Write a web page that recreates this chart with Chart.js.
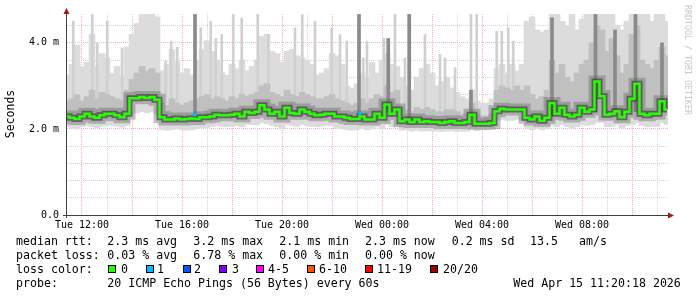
<!DOCTYPE html>
<html>
<head>
<meta charset="utf-8">
<script src="https://cdn.jsdelivr.net/npm/chart.js@4/dist/chart.umd.min.js"></script>
<style>
  html, body { margin: 0; padding: 0; background: #fff; }
  #graph { display: block; }
</style>
</head>
<body>
<canvas id="graph" width="697" height="297"></canvas>
<script>
// one reading every 12 minutes, first one at Tue 11:24 (hours counted from Tue 00:00)
const startHour = 11.4;
const stepHour = 0.2;

// median rtt in ms
const median = [
  2.29,2.26,2.23,2.29,2.35,2.29,2.26,2.32,2.35,2.35,
  2.32,2.27,2.35,2.71,2.71,2.74,2.72,2.74,2.68,2.27,
  2.22,2.22,2.24,2.22,2.23,2.24,2.23,2.27,2.27,2.29,
  2.33,2.32,2.32,2.33,2.35,2.29,2.40,2.37,2.40,2.55,
  2.45,2.35,2.40,2.29,2.49,2.37,2.35,2.45,2.40,2.35,
  2.32,2.33,2.35,2.35,2.29,2.29,2.26,2.23,2.23,2.29,
  2.22,2.22,2.35,2.26,2.57,2.35,2.45,2.18,2.22,2.16,
  2.22,2.16,2.18,2.16,2.16,2.14,2.16,2.18,2.14,2.14,
  2.16,2.33,2.12,2.12,2.12,2.14,2.41,2.47,2.45,2.45,
  2.45,2.45,2.26,2.22,2.29,2.19,2.26,2.60,2.35,2.49,
  2.33,2.29,2.33,2.49,2.40,2.45,3.10,2.76,2.33,2.35,
  2.41,2.27,2.40,2.70,3.05,2.35,2.32,2.35,2.35,2.64,
  2.45
];

// bottom of the smoke
const smokeLow = [
  2.05,2.02,2.00,2.05,2.08,2.05,2.03,2.06,2.08,2.08,
  2.06,2.04,2.08,2.35,2.38,2.40,2.38,2.40,2.35,1.98,
  1.97,1.98,2.00,1.98,1.97,1.98,2.00,2.02,2.03,2.05,
  2.07,2.06,2.05,2.06,2.08,2.05,2.10,2.10,2.10,2.15,
  2.12,2.08,2.05,2.00,2.10,2.08,2.06,2.10,2.08,2.06,
  2.05,2.06,2.08,2.08,2.02,2.00,1.98,1.97,1.98,2.02,
  1.98,2.00,2.05,2.00,2.10,2.05,2.08,1.97,1.98,1.95,
  1.97,1.95,1.96,1.95,1.95,1.94,1.95,1.96,1.94,1.95,
  1.95,2.00,1.96,1.98,1.98,2.00,2.20,2.22,2.20,2.20,
  2.22,2.20,2.02,1.98,2.02,1.98,2.00,2.08,2.05,2.10,
  2.05,2.02,2.05,2.10,2.08,2.10,2.15,2.15,2.05,2.06,
  2.10,2.02,2.08,2.10,2.15,2.08,2.05,2.06,2.06,2.15,
  2.10
];

// top of the denser grey smoke
const smokeMid = [
  2.65,2.70,2.80,2.65,2.75,2.90,2.70,2.85,2.80,2.75,
  2.70,2.65,2.90,3.15,3.30,3.45,3.35,3.40,3.30,2.60,
  2.55,2.70,2.60,2.55,2.60,2.65,2.70,2.75,2.80,2.70,
  2.75,2.70,2.65,2.75,2.70,2.80,2.75,2.80,2.85,3.00,
  3.05,2.85,2.80,2.75,2.90,2.80,2.75,2.85,2.80,2.75,
  2.70,2.70,2.75,2.80,2.70,2.65,2.60,2.55,2.60,2.70,
  2.60,2.70,2.80,2.75,3.00,2.85,2.90,2.50,2.45,2.40,
  2.50,2.45,2.50,2.45,2.40,2.40,2.45,2.45,2.40,2.35,
  2.35,2.60,2.35,2.30,2.30,2.35,2.90,3.00,2.95,2.90,
  3.00,2.90,3.00,2.80,2.70,2.75,2.90,3.60,3.30,3.50,
  3.20,3.10,3.30,3.50,3.60,4.00,4.40,4.30,3.80,4.10,
  3.70,3.30,3.50,4.20,4.40,3.60,3.50,3.40,3.60,3.90,
  3.70
];

// top of the light smoke
const smokeTop = [
  3.25,3.50,3.95,3.45,3.55,4.20,3.45,3.75,3.65,3.30,
  3.45,3.20,3.90,4.20,4.45,4.66,4.66,4.66,4.60,3.35,
  3.50,3.85,3.55,3.30,3.40,3.25,3.60,3.85,4.05,3.80,
  3.60,3.30,3.25,3.50,3.40,3.60,3.35,3.45,3.60,4.15,
  4.20,3.80,3.75,3.55,3.80,3.85,3.70,3.65,3.60,3.50,
  3.25,3.30,3.40,3.75,3.70,3.50,3.00,2.95,3.05,3.30,
  3.20,3.55,3.30,3.60,3.75,3.50,3.45,3.20,3.00,2.90,
  3.20,3.40,3.50,3.30,3.00,3.10,3.20,2.95,2.85,2.75,
  2.70,2.90,2.65,2.60,2.60,2.70,3.40,3.50,3.30,3.50,
  3.35,3.50,4.50,4.60,4.30,4.25,4.30,4.66,4.66,4.50,
  4.40,4.66,4.30,4.55,4.66,4.66,4.66,4.66,4.66,4.66,
  4.40,4.30,4.50,4.66,4.66,4.66,4.66,4.50,4.66,4.66,
  4.50
];

// single slow pings
const spikeHours = [11.65,12.41,12.61,13.01,13.6,15.35,15.57,15.81,16.75,17.15,17.35,17.59,18.05,18.39,19.03,19.45,
  20.52,20.81,21.32,21.99,22.32,22.59,23.25,23.4,24.08,24.52,24.92,25.72,26.32,26.52,26.92,27.56,27.79,28.59,28.79,29.05,29.25];
const spikeTops = [4.5,4.66,4.0,4.5,3.88,3.57,4.04,3.9,4.35,4.5,4.1,4.19,4.66,4.58,4.66,4.19,
  4.35,4.66,4.5,4.35,4.19,4.04,3.65,4.04,4.1,4.66,3.65,4.19,3.73,3.65,3.42,4.66,4.66,4.27,4.27,4.35,4.04];
const spikeBase = 2.4;

// dark columns
const darkHours = [16.52,23.08,24.25,25.09,27.56,30.8,32.54,33.32,34.14,35.2];
const darkLows = [2.26,2.33,2.4,2.2,2.3,2.3,2.4,2.4,2.4,2.4];
const darkTops = [4.66,4.66,4.1,4.66,2.9,4.58,4.66,4.3,4.66,4.0];

// samples with 1 lost ping
const lossHours = [16.52,23.12];
const lossValues = [2.33,2.36];

const tickHours = [12,16,20,24,28,32];
const tickNames = ["Tue 12:00","Tue 16:00","Tue 20:00","Wed 00:00","Wed 04:00","Wed 08:00"];
const yTickValues = [0,1,2,3,4];
const yTickNames = ["0.0","1.0 m","2.0 m","3.0 m","4.0 m"];

const rttStats = ["2.3 ms avg","3.2 ms max","2.1 ms min","2.3 ms now","0.2 ms sd","13.5","am/s"];
const lossStats = ["0.03 % avg","6.78 % max","0.00 % min","0.00 % now"];
const lossLabels = ["0","1","2","3","4-5","6-10","11-19","20/20"];
const lossColors = ["#26ff00","#00b8ff","#0059ff","#7e00ff","#ff00ff","#ff5500","#ff0000","#a00000"];
const probeText = "20 ICMP Echo Pings (56 Bytes) every 60s";
const stampText = "Wed Apr 15 11:20:18 2026";

const hours = median.map((_, i) => startHour + i * stepHour);
const mono = '"DejaVu Sans Mono", monospace';
const major = "#f2b4b4";
const minor = "#d4d4d4";

const hourGrid = [];
for (let h = 12; h <= 35; h++) hourGrid.push(h);
const msGrid = [];
for (let k = 0; k <= 23; k++) msGrid.push(Math.round(k * 2) / 10);

const decor = {
  id: "decor",
  afterDraw(chart) {
    const ctx = chart.ctx;
    ctx.save();
    // axes
    ctx.strokeStyle = "#404040";
    ctx.lineWidth = 1;
    ctx.beginPath();
    ctx.moveTo(66.5, 12);
    ctx.lineTo(66.5, 218);
    ctx.moveTo(63, 215.5);
    ctx.lineTo(669, 215.5);
    ctx.stroke();
    ctx.fillStyle = "#a01818";
    ctx.beginPath();
    ctx.moveTo(66.5, 8);
    ctx.lineTo(63.5, 14);
    ctx.lineTo(69.5, 14);
    ctx.closePath();
    ctx.fill();
    ctx.beginPath();
    ctx.moveTo(674, 215.5);
    ctx.lineTo(668, 212.5);
    ctx.lineTo(668, 218.5);
    ctx.closePath();
    ctx.fill();

    // y title
    ctx.fillStyle = "#000";
    ctx.font = "11.5px " + mono;
    ctx.textAlign = "center";
    ctx.textBaseline = "middle";
    ctx.save();
    ctx.translate(11, 114);
    ctx.rotate(-Math.PI / 2);
    ctx.fillText("Seconds", 0, 0);
    ctx.restore();

    // watermark
    ctx.save();
    ctx.fillStyle = "#c8c8c8";
    ctx.font = "8.3px " + mono;
    ctx.textAlign = "left";
    ctx.translate(687.5, 5);
    ctx.rotate(Math.PI / 2);
    ctx.fillText("RRDTOOL / TOBI OETIKER", 0, 0);
    ctx.restore();

    // legend
    ctx.font = "11.6px " + mono;
    ctx.textAlign = "left";
    ctx.textBaseline = "alphabetic";
    ctx.fillStyle = "#000";
    const cols = [107.3, 193.3, 279.3, 365, 451.7, 530, 579];
    ctx.fillText("median rtt:", 16, 244.5);
    rttStats.forEach((t, i) => ctx.fillText(t, cols[i], 244.5));
    ctx.fillText("packet loss:", 16, 258.5);
    lossStats.forEach((t, i) => ctx.fillText(t, cols[i], 258.5));
    ctx.fillText("loss color:", 16, 272.5);
    const boxX = [108, 146, 183, 219, 256, 307, 365, 430];
    const labX = [121, 157, 194, 232, 268, 319, 377, 443];
    lossLabels.forEach((t, i) => {
      ctx.fillStyle = lossColors[i];
      ctx.fillRect(boxX[i] + 0.5, 265.5, 7, 7);
      ctx.strokeStyle = "#000";
      ctx.strokeRect(boxX[i] + 0.5, 265.5, 7, 7);
      ctx.fillStyle = "#000";
      ctx.fillText(t, labX[i], 272.5);
    });
    ctx.fillText("probe:", 16, 286.5);
    ctx.fillText(probeText, 107.3, 286.5);
    ctx.fillText(stampText, 513.3, 286.5);
    ctx.restore();
  }
};

new Chart(document.getElementById("graph"), {
  type: "bar",
  plugins: [decor],
  data: {
    datasets: [
      {
        type: "bar",
        data: hours.map((h, i) => ({ x: h, y: [smokeLow[i], smokeTop[i]] })),
        backgroundColor: "#dcdcdc",
        barThickness: 6,
        grouped: false,
        order: 10
      },
      {
        type: "bar",
        data: spikeHours.map((h, i) => ({ x: h, y: [spikeBase, spikeTops[i]] })),
        backgroundColor: "#d0d0d0",
        barThickness: 2,
        grouped: false,
        order: 9
      },
      {
        type: "bar",
        data: hours.map((h, i) => ({ x: h, y: [median[i], smokeMid[i]] })),
        backgroundColor: "#c0c0c0",
        barThickness: 6,
        grouped: false,
        order: 8
      },
      {
        type: "bar",
        data: darkHours.map((h, i) => ({ x: h, y: [darkLows[i], darkTops[i]] })),
        backgroundColor: "#8a8a8a",
        barThickness: 3,
        grouped: false,
        order: 7
      },
      {
        type: "line",
        data: hours.map((h, i) => ({ x: h, y: median[i] })),
        stepped: "middle",
        borderColor: "rgba(100,100,100,0.4)",
        borderWidth: 12,
        pointRadius: 0,
        clip: 0,
        order: 6
      },
      {
        type: "line",
        data: hours.map((h, i) => ({ x: h, y: median[i] })),
        stepped: "middle",
        borderColor: "rgba(50,50,50,0.6)",
        borderWidth: 6,
        pointRadius: 0,
        clip: 0,
        order: 5
      },
      {
        type: "line",
        data: hours.map((h, i) => ({ x: h, y: median[i] })),
        stepped: "middle",
        borderColor: "#26ff00",
        borderWidth: 2.5,
        pointRadius: 0,
        clip: 0,
        order: 4
      },
      {
        type: "line",
        data: lossHours.map((h, i) => ({ x: h, y: lossValues[i] })),
        showLine: false,
        pointStyle: "rect",
        pointRadius: 2.5,
        pointBackgroundColor: "#00b8ff",
        pointBorderWidth: 0,
        clip: 0,
        order: 3
      }
    ]
  },
  options: {
    responsive: false,
    animation: false,
    layout: { padding: { left: 0, right: 29, top: 14, bottom: 0 } },
    plugins: { legend: { display: false }, tooltip: { enabled: false } },
    scales: {
      x: {
        type: "linear",
        offset: false,
        min: 11.4,
        max: 35.44,
        z: 1,
        afterBuildTicks: s => { s.ticks = hourGrid.map(v => ({ value: v })); },
        afterFit: s => { s.height = 82; },
        ticks: {
          autoSkip: false,
          maxRotation: 0,
          padding: 4,
          color: "#000",
          font: { family: mono, size: 10 },
          callback: v => {
            const k = tickHours.indexOf(v);
            return k >= 0 ? tickNames[k] : "";
          }
        },
        grid: {
          offset: false,
          drawTicks: false,
          color: c => (c.tick && c.tick.value % 2 === 0 ? major : minor)
        },
        border: { display: false, dash: [1, 1] }
      },
      y: {
        min: 0,
        max: 4.67,
        z: 1,
        afterBuildTicks: s => { s.ticks = msGrid.map(v => ({ value: v })); },
        afterFit: s => { s.width = 67; },
        ticks: {
          padding: 8,
          color: "#000",
          font: { family: mono, size: 10 },
          callback: v => {
            const k = yTickValues.indexOf(v);
            return k >= 0 ? yTickNames[k] : "";
          }
        },
        grid: {
          drawTicks: false,
          color: c => {
            const v = c.tick ? c.tick.value : 0;
            if (v === 0) return "rgba(0,0,0,0)";
            return Math.abs(v - Math.round(v)) < 1e-6 ? major : minor;
          }
        },
        border: { display: false, dash: [1, 1] }
      }
    }
  }
});
</script>
</body>
</html>
